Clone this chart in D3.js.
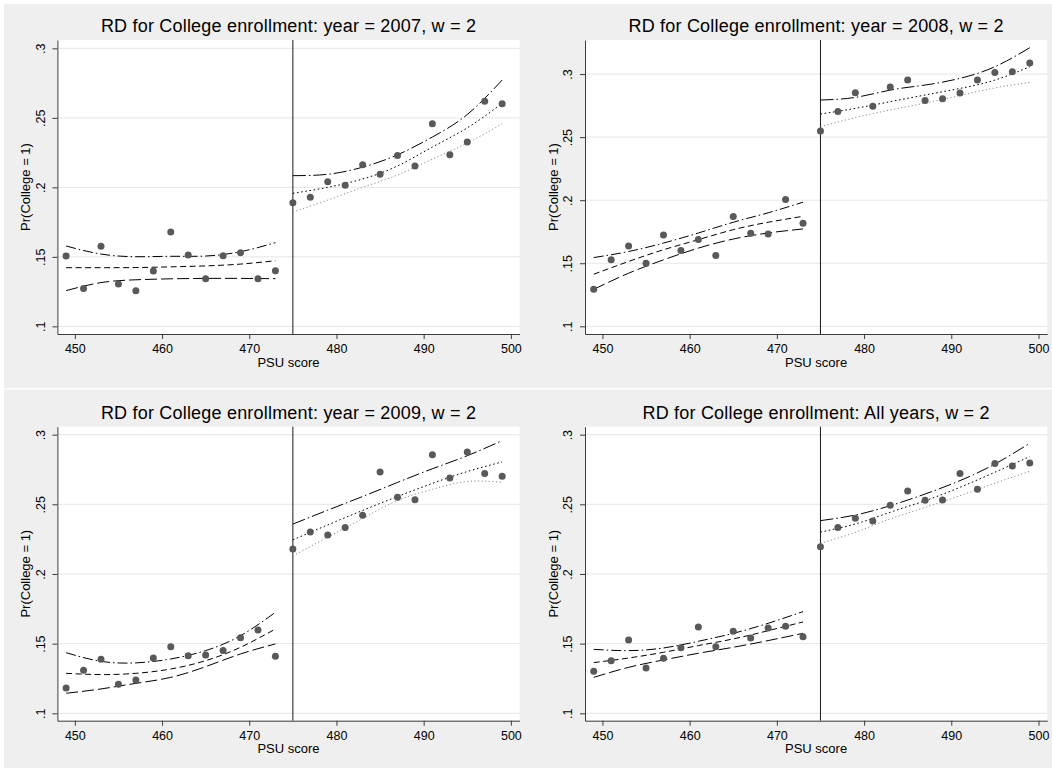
<!DOCTYPE html>
<html>
<head>
<meta charset="utf-8">
<script src="https://cdn.jsdelivr.net/npm/d3@7"></script>
<style>
body { margin: 0; background: #fff; }
svg { display: block; }
text { font-family: "Liberation Sans", Arial, Helvetica, sans-serif; }
</style>
</head>
<body>
<script>

// bins of the running variable (2 point bins)
var binX = [449,451,453,455,457,459,461,463,465,467,469,471,473,
            475,477,479,481,483,485,487,489,491,493,495,497,499];
var fitXLeft = [449,453,457,461,465,469,473];
var fitXRight = [475,479,483,487,491,495,499];
var cutoff = 475;

var xTicks = [450,460,470,480,490,500];
var yTicks = [.1,.15,.2,.25,.3];
var yTickLabels = [".1",".15",".2",".25",".3"];

var titles = ["RD for College enrollment: year = 2007, w = 2",
              "RD for College enrollment: year = 2008, w = 2",
              "RD for College enrollment: year = 2009, w = 2",
              "RD for College enrollment: All years, w = 2"];

//2007
var pts2007 = [.1506,.1273,.1576,.1305,.1257,.1398,.1679,.1513,.1343,.1508,.1530,.1343,.1400,
               .1890,.1928,.2040,.2015,.2162,.2094,.2230,.2154,.2458,.2235,.2326,.2619,.2601];
var up2007L = [.1578,.1520,.1501,.1504,.1506,.1537,.1602];
var fit2007L = [.1422,.1422,.1423,.1428,.1435,.1448,.1472];
var lo2007L = [.1257,.1315,.1335,.1342,.1345,.1345,.1343];
var up2007R = [.2084,.2094,.2145,.2234,.2362,.2524,.2772];
var fit2007R = [.1957,.2000,.2060,.2154,.2290,.2428,.2604];
var lo2007R = [.1823,.1908,.2000,.2089,.2203,.2319,.2457];

//2008
var pts2008 = [.1294,.1527,.1636,.1500,.1724,.1601,.1689,.1561,.1870,.1737,.1732,.2006,.1817,
               .2548,.2704,.2852,.2744,.2897,.2952,.2791,.2804,.2849,.2952,.3013,.3018,.3087];
var up2008L = [.1545,.1593,.1660,.1740,.1825,.1900,.1984];
var fit2008L = [.1413,.1514,.1607,.1687,.1766,.1825,.1872];
var lo2008L = [.1293,.1421,.1527,.1620,.1692,.1740,.1772];
var up2008R = [.2794,.2815,.2873,.2913,.2966,.3058,.3209];
var fit2008R = [.2683,.2728,.2781,.2834,.2886,.2952,.3058];
var lo2008R = [.2583,.2655,.2715,.2770,.2830,.2890,.2934];

//2009
var pts2009 = [.1182,.1309,.1388,.1208,.1239,.1397,.1478,.1414,.1419,.1450,.1543,.1598,.1409,
               .2179,.2301,.2280,.2333,.2421,.2732,.2550,.2533,.2856,.2689,.2876,.2722,.2701];
var up2009L = [.1435,.1373,.1362,.1390,.1450,.1557,.1725];
var fit2009L = [.1287,.1278,.1287,.1318,.1378,.1474,.1605];
var lo2009L = [.1144,.1175,.1215,.1258,.1335,.1426,.1498];
var up2009R = [.2358,.2458,.2556,.2657,.2755,.2849,.2957];
var fit2009R = [.2245,.2352,.2456,.2556,.2650,.2735,.2804];
var lo2009R = [.2129,.2264,.2398,.2527,.2608,.2664,.2657];

//all years
var ptsAll = [.1301,.1378,.1526,.1325,.1395,.1471,.1620,.1478,.1589,.1541,.1612,.1624,.1550,
              .2196,.2333,.2400,.2380,.2493,.2596,.2529,.2531,.2722,.2608,.2792,.2775,.2797];
var upAllL = [.1459,.1450,.1469,.1517,.1574,.1646,.1730];
var fitAllL = [.1364,.1397,.1438,.1486,.1534,.1593,.1656];
var loAllL = [.1258,.1330,.1383,.1431,.1474,.1522,.1574];
var upAllR = [.2383,.2423,.2490,.2574,.2670,.2789,.2938];
var fitAllR = [.2301,.2359,.2443,.2526,.2622,.2730,.2842];
var loAllR = [.2220,.2299,.2395,.2478,.2562,.2651,.2737];

var W = 1052, H = 768;
var svg = d3.select("body").append("svg")
    .attr("width", W)
    .attr("height", H);

// graph backgrounds (two rows)
svg.append("rect").attr("x", 4).attr("y", 4).attr("width", W - 4).attr("height", 384).attr("fill", "#efefef");
svg.append("rect").attr("x", 4).attr("y", 389.5).attr("width", W - 4).attr("height", H - 389.5).attr("fill", "#efefef");

var panels = [
  {title: titles[0], pts: pts2007, upL: up2007L, fitL: fit2007L, loL: lo2007L, upR: up2007R, fitR: fit2007R, loR: lo2007R, ox: 0, oy: 0, yDom: [.0945, .306]},
  {title: titles[1], pts: pts2008, upL: up2008L, fitL: fit2008L, loL: lo2008L, upR: up2008R, fitR: fit2008R, loR: lo2008R, ox: 527.6, oy: 0, yDom: [.0939, .327]},
  {title: titles[2], pts: pts2009, upL: up2009L, fitL: fit2009L, loL: lo2009L, upR: up2009R, fitR: fit2009R, loR: lo2009R, ox: 0, oy: 386.7, yDom: [.0947, .3057]},
  {title: titles[3], pts: ptsAll, upL: upAllL, fitL: fitAllL, loL: loAllL, upR: upAllR, fitR: fitAllR, loR: loAllR, ox: 527.6, oy: 386.7, yDom: [.0947, .3057]}
];

var m = {left: 57.4, right: 519.6, top: 40, bottom: 334};

//line looks, left of cutoff then right of cutoff
var lookL = {up: {dash: "10,3,1.5,3", col: "#000"}, fit: {dash: "6,3.5", col: "#000"}, lo: {dash: "12,4", col: "#000"}};
var lookR = {up: {dash: "13,3,1.5,3", col: "#000"}, fit: {dash: "1.6,2.6", col: "#000"}, lo: {dash: "1.2,2.4", col: "#8a8a8a"}};

panels.forEach(function (p) {
    var g = svg.append("g").attr("transform", "translate(" + p.ox + "," + p.oy + ")");

    var x = d3.scaleLinear().domain([448, 501]).range([m.left, m.right]);
    var y = d3.scaleLinear().domain(p.yDom).range([m.bottom, m.top]);

    // plot region
    g.append("rect")
        .attr("x", m.left).attr("y", m.top)
        .attr("width", m.right - m.left).attr("height", m.bottom - m.top)
        .attr("fill", "#fff");

    // grid
    g.selectAll("line.grid").data(yTicks).enter()
        .append("line")
        .attr("class", "grid")
        .attr("x1", m.left).attr("x2", m.right)
        .attr("y1", function (d) { return y(d); })
        .attr("y2", function (d) { return y(d); })
        .attr("stroke", "#e6e6e6")
        .attr("stroke-width", 1);

    // cutoff
    g.append("line")
        .attr("x1", x(cutoff)).attr("x2", x(cutoff))
        .attr("y1", m.top).attr("y2", m.bottom)
        .attr("stroke", "#1a1a1a")
        .attr("stroke-width", 1);

    var line = d3.line()
        .x(function (d) { return x(d[0]); })
        .y(function (d) { return y(d[1]); })
        .curve(d3.curveNatural);

    function drawFit(xs, vals, look) {
        g.append("path")
            .datum(d3.zip(xs, vals))
            .attr("d", line)
            .attr("fill", "none")
            .attr("stroke", look.col)
            .attr("stroke-width", 1)
            .attr("stroke-dasharray", look.dash);
    }
    drawFit(fitXLeft, p.upL, lookL.up);
    drawFit(fitXLeft, p.fitL, lookL.fit);
    drawFit(fitXLeft, p.loL, lookL.lo);
    drawFit(fitXRight, p.upR, lookR.up);
    drawFit(fitXRight, p.fitR, lookR.fit);
    drawFit(fitXRight, p.loR, lookR.lo);

    // binned means
    g.selectAll("circle").data(d3.zip(binX, p.pts)).enter()
        .append("circle")
        .attr("cx", function (d) { return x(d[0]); })
        .attr("cy", function (d) { return y(d[1]); })
        .attr("r", 3.5)
        .attr("fill", "#595959");

    // axes
    var ax = g.append("g")
        .attr("transform", "translate(0," + m.bottom + ")")
        .call(d3.axisBottom(x).tickValues(xTicks).tickSizeInner(5).tickSizeOuter(0).tickPadding(5));
    var ay = g.append("g")
        .attr("transform", "translate(" + m.left + ",0)")
        .call(d3.axisLeft(y).tickValues(yTicks).tickSizeInner(5).tickSizeOuter(0)
              .tickFormat(function (d, i) { return yTickLabels[i]; }));

    [ax, ay].forEach(function (a) {
        a.select(".domain").attr("stroke", "#3c3c3c");
        a.selectAll(".tick line").attr("stroke", "#3c3c3c");
        a.selectAll("text").style("font-size", "12.5px").attr("fill", "#000")
            .style("font-family", "'Liberation Sans', Arial, sans-serif");
    });
    ay.selectAll(".tick text")
        .attr("transform", "rotate(-90)")
        .attr("x", 0)
        .attr("y", -12.6)
        .attr("dy", 0)
        .attr("text-anchor", "middle");

    // titles
    g.append("text")
        .attr("x", (m.left + m.right) / 2).attr("y", 32)
        .attr("text-anchor", "middle")
        .style("font-size", "18px")
        .style("letter-spacing", "0.2px")
        .text(p.title);

    g.append("text")
        .attr("x", (m.left + m.right) / 2).attr("y", 366.7)
        .attr("text-anchor", "middle")
        .style("font-size", "13px")
        .text("PSU score");

    g.append("text")
        .attr("transform", "translate(30.2," + ((m.top + m.bottom) / 2) + ") rotate(-90)")
        .attr("text-anchor", "middle")
        .style("font-size", "13px")
        .text("Pr(College = 1)");
});

</script>
</body>
</html>
